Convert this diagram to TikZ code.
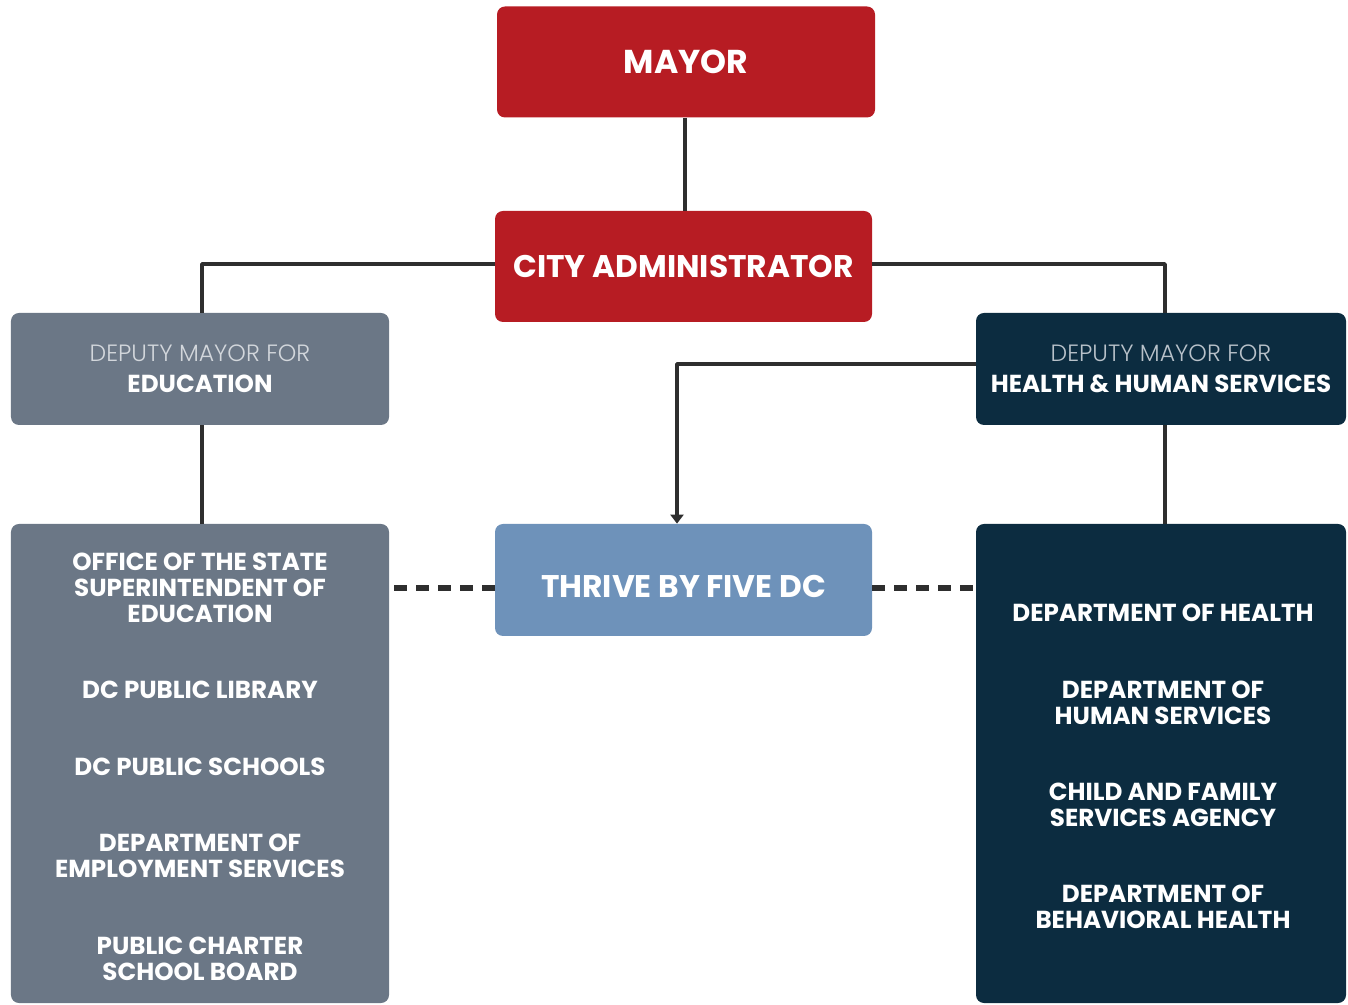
\documentclass[tikz,border=0pt]{standalone}
\usepackage{fontspec}
\setmainfont{Poppins}
\newfontfamily\thinfont{Poppins Light}
\usetikzlibrary{arrows.meta}
\definecolor{mayorred}{HTML}{B71C23}
\definecolor{edugray}{HTML}{6B7786}
\definecolor{hhsnavy}{HTML}{0C2C40}
\definecolor{thriveblue}{HTML}{6E92BA}
\definecolor{linkgray}{HTML}{2E2E2E}
\definecolor{subedu}{HTML}{D3D7DC}
\definecolor{subhhs}{HTML}{B9C2CA}

\begin{document}
\begin{tikzpicture}[x=0.2mm,y=-0.2mm,line join=round,
    box/.style={rounded corners=1.6mm,inner sep=0pt,text=white,minimum width=75.6mm,minimum height=22.2mm,align=center},
    big/.style={box,minimum height=95.8mm},
    head/.style={font=\bfseries\fontsize{17.8}{20}\selectfont},
    item/.style={text=white,align=center,font=\bfseries\fontsize{14}{14.8}\selectfont},
    link/.style={draw=linkgray,line width=2pt},
    dashlink/.style={draw=linkgray,line width=3pt,dash pattern=on 2.6mm off 1.8mm}]
  \useasboundingbox (0,0) rectangle (1348,1005);

  % top of the chart
  \node[box,head,fill=mayorred,font=\bfseries\fontsize{18.8}{20}\selectfont] (mayor) at (686,62) {MAYOR};
  \node[box,head,fill=mayorred,minimum width=75.4mm] (city) at (683.5,266.5) {CITY ADMINISTRATOR};

  % deputy mayors
  \node[box,fill=edugray,font=\bfseries\fontsize{14}{16}\selectfont,minimum height=22.4mm] (dme) at (200,369)
    {{\thinfont\mdseries\color{subedu}\fontsize{13.4}{14}\selectfont DEPUTY MAYOR FOR}\\[0.5mm]EDUCATION};
  \node[box,fill=hhsnavy,font=\bfseries\fontsize{14}{16}\selectfont,minimum width=74mm,minimum height=22.4mm] (dmh) at (1161,369)
    {{\thinfont\mdseries\color{subhhs}\fontsize{13.4}{14}\selectfont DEPUTY MAYOR FOR}\\[0.5mm]HEALTH \& HUMAN SERVICES};

  % agencies
  \node[box,head,fill=thriveblue,minimum width=75.4mm,minimum height=22.4mm,text height=6.9mm,text depth=0pt] (thrive) at (683.5,580) {THRIVE BY FIVE DC};
  \node[big,fill=edugray] (edu) at (200,763.5) {};
  \node[big,fill=hhsnavy,minimum width=74mm] (hhs) at (1161,763.5) {};

  \foreach \y/\t [count=\i] in {587.5/{OFFICE OF THE STATE\\SUPERINTENDENT OF\\EDUCATION},690/DC PUBLIC LIBRARY,
      767/DC PUBLIC SCHOOLS,856/{DEPARTMENT OF\\EMPLOYMENT SERVICES},959/{PUBLIC CHARTER\\SCHOOL BOARD}}
    \node[item] (edu\i) at (200,\y) {\t};
  \foreach \y/\t [count=\i] in {613/DEPARTMENT OF HEALTH,703/{DEPARTMENT OF\\HUMAN SERVICES},
      805/{CHILD AND FAMILY\\SERVICES AGENCY},907/{DEPARTMENT OF\\BEHAVIORAL HEALTH}}
    \node[item] (hhs\i) at (1163,\y) {\t};

  % connectors
  \draw[link] ([xshift=-0.2mm]mayor.south) -- ([xshift=-0.2mm]mayor.south |- city.north);
  \draw[link] ([yshift=0.5mm]city.west) -| ([xshift=0.4mm]dme.north);
  \draw[link] ([yshift=0.5mm]city.east) -| ([xshift=0.8mm]dmh.north);
  \draw[link] ([xshift=0.4mm]dme.south) -- ([xshift=0.4mm]edu.north);
  \draw[link] ([xshift=0.8mm]dmh.south) -- ([xshift=0.8mm]hhs.north);
  \draw[link,-{Triangle[length=1.8mm,width=2.6mm]}] ([yshift=1mm]dmh.west) -| ([xshift=-1.3mm]thrive.north);
  \draw[dashlink] ([yshift=-1.6mm]thrive.west) -- ([yshift=-1.6mm]thrive.west -| edu.east);
  \draw[dashlink] ([yshift=-1.6mm]thrive.east) -- ([yshift=-1.6mm]thrive.east -| hhs.west);
\end{tikzpicture}
\end{document}
